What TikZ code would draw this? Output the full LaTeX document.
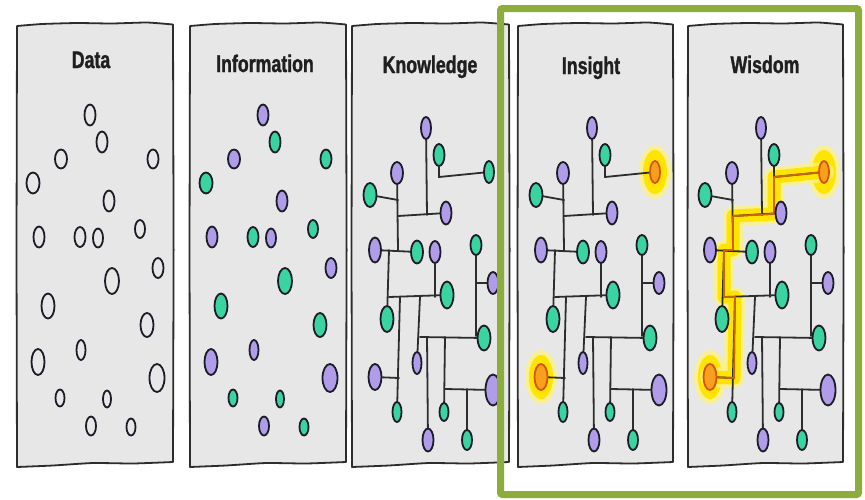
\documentclass[tikz,border=0pt]{standalone}
\usepackage{fontspec}
\newfontfamily\headfont{Liberation Sans Bold}[FakeStretch=0.74, FakeBold=1.2]
\usetikzlibrary{shapes.geometric}

\definecolor{panelgray}{RGB}{231,231,231}
\definecolor{inkgray}{RGB}{45,45,45}
\definecolor{dotink}{RGB}{28,28,40}
\definecolor{mint}{RGB}{58,212,160}
\definecolor{lilac}{RGB}{176,156,232}
\definecolor{hotfill}{RGB}{247,160,30}
\definecolor{hotedge}{RGB}{215,85,10}
\definecolor{glowyellow}{RGB}{255,228,0}
\definecolor{framegreen}{RGB}{140,172,60}
\definecolor{pathcore}{RGB}{200,100,10}

\pgfdeclarelayer{panels}
\pgfdeclarelayer{glow}
\pgfdeclarelayer{wires}
\pgfsetlayers{panels,glow,wires,main}

\tikzset{
  panel/.style={draw=inkgray, line width=1.8pt, fill=panelgray, line join=round},
  heading/.style={font=\headfont\fontsize{24}{27}\selectfont, text=black!88, anchor=base, inner sep=0pt},
  dot/.style 2 args={ellipse, draw=dotink, line width=1.8pt, inner sep=0pt, minimum width=#1pt, minimum height=#2pt},
  gdot/.style={fill=mint},
  pdot/.style={fill=lilac},
  odot/.style={fill=hotfill, draw=hotedge},
  wire/.style={draw=inkgray, line width=1.8pt, line cap=round},
  haze/.style={fill=glowyellow!50, opacity=0.75},
  halo/.style={fill=glowyellow},
  band/.style={draw=glowyellow, line width=13pt, line join=round, line cap=round},
  bandhaze/.style={draw=glowyellow!50, line width=20pt, line join=round, line cap=round, opacity=0.75},
  core/.style={draw=pathcore, line width=1.9pt, line join=round, line cap=round},
  frame/.style={draw=framegreen, line width=7pt, rounded corners=2pt},
}

% hand-drawn grey card between two x positions
\newcommand{\sketchpanel}[2]{%
  \begin{pgfonlayer}{panels}
    \draw[panel] plot[smooth, tension=0.3] coordinates {(#1,26) (#1+25,24) (#1+60,23) (#1+95,23.5) (#1+130,22.5) (#2,24.5)}
      -- (#2+0.6,250)
      -- plot[smooth, tension=0.3] coordinates {(#2,462) (#2-40,463.5) (#2-80,463) (#2-120,465.5) (#1,467)}
      -- (#1-0.5,250) -- cycle;
  \end{pgfonlayer}}

% branching network: #1 name prefix, #2 x shift, #3 style of node g2, #4 style of node p10
\newcommand{\dikwnet}[4]{%
\begin{scope}[xshift=#2pt, name prefix=#1-]
  \node[dot={10}{22}, pdot] (p1) at (426,128) {};
  \node[dot={11}{22}, gdot] (g1) at (439,155) {};
  \node[dot={12}{22}, pdot] (p2) at (397,173) {};
  \node[dot={10}{22}, #3] (g2) at (489,172) {};
  \node[dot={13}{24}, gdot] (g3) at (370,195) {};
  \node[dot={11}{23}, pdot] (p3) at (446,213) {};
  \node[dot={12}{25}, pdot] (p4) at (375,250) {};
  \node[dot={12}{23}, gdot] (g4) at (417,252) {};
  \node[dot={11}{22}, pdot] (p5) at (435,252) {};
  \node[dot={11}{20}, gdot] (g9) at (476,245) {};
  \node[dot={11}{22}, pdot] (p6) at (493,283) {};
  \node[dot={13}{27}, gdot] (g6) at (447,295) {};
  \node[dot={13}{26}, gdot] (g5) at (387,319) {};
  \node[dot={13}{25}, gdot] (g8) at (484,338) {};
  \node[dot={9}{22},  pdot] (p8) at (417,363) {};
  \node[dot={13}{26}, #4] (p10) at (375,377) {};
  \node[dot={15}{31}, pdot] (p9) at (493,390) {};
  \node[dot={9}{20},  gdot] (g7) at (397,412) {};
  \node[dot={9}{18},  gdot] (g10) at (444,412) {};
  \node[dot={11}{23}, pdot] (p7) at (428,440) {};
  \node[dot={10}{20}, gdot] (g11) at (467,440) {};
  % junctions
  \coordinate (a) at (439,177);
  \coordinate (s) at (439,214);
  \coordinate (b) at (427,215);
  \coordinate (c) at (398,216);
  \coordinate (d) at (398,200);
  \coordinate (e) at (398,250);
  \coordinate (f) at (389,250);
  \coordinate (g) at (389,297);
  \coordinate (h) at (400,297);
  \coordinate (i) at (420,297);
  \coordinate (j) at (435,297);
  \coordinate (k) at (399,378);
  \coordinate (l) at (476,283);
  \coordinate (m) at (476,336);
  \coordinate (n) at (420,337);
  \coordinate (o) at (427,337);
  \coordinate (p) at (445,337);
  \coordinate (q) at (445,389);
  \coordinate (r) at (467,389);
  \begin{pgfonlayer}{wires}
    \draw[wire] (p1) -- (b);
    \draw[wire] (g1) -- (a) -- (g2);
    \draw[wire] (p2) -- (e);
    \draw[wire] (g3) -- (d);
    \draw[wire] (c) -- (p3);
    \draw[wire] (p4) -- (g4);
    \draw[wire] (f) -- (g5);
    \draw[wire] (g) -- (g6);
    \draw[wire] (p5) -- (j);
    \draw[wire] (h) -- (g7);
    \draw[wire] (i) -- (p8);
    \draw[wire] (p10) -- (k);
    \draw[wire] (g9) -- (m);
    \draw[wire] (l) -- (p6);
    \draw[wire] (n) -- (g8);
    \draw[wire] (o) -- (p7);
    \draw[wire] (p) -- (g10);
    \draw[wire] (q) -- (p9);
    \draw[wire] (r) -- (g11);
  \end{pgfonlayer}
\end{scope}}

\begin{document}
\begin{tikzpicture}[x=1pt, y=-1pt]
  \useasboundingbox (0,0) rectangle (865,499);
  \begin{pgfonlayer}{panels}
    \fill[white] (0,0) rectangle (865,499);
  \end{pgfonlayer}

  % the five cards
  \sketchpanel{17}{173}
  \sketchpanel{190}{346}
  \sketchpanel{352}{509}
  \sketchpanel{518}{673}
  \sketchpanel{688}{843}

  % headings
  \node[heading] (t-data) at (91,68) {Data};
  \node[heading] (t-info) at (265,72) {Information};
  \node[heading] (t-know) at (430,73) {Knowledge};
  \node[heading] (t-insight) at (591,74) {Insight};
  \node[heading] (t-wisdom) at (765,73) {Wisdom};

  % scattered points: plain on the first card, coloured on the second
  \foreach \n/\x/\y/\w/\h/\c in {
      1/90/115/11/21/lilac, 2/102/142/11/21/mint, 3/61/159/12/19/lilac,
      4/153/159/11/19/mint, 5/33/183/13/21/mint, 6/109/201/11/21/lilac,
      7/39/237/11/21/lilac, 8/80/237/11/20/mint, 9/98/238/10/19/lilac,
      10/140/229/10/18/mint, 11/158/268/11/20/lilac, 12/112/281/14/26/mint,
      13/48/306/13/25/mint, 14/147/325/13/24/mint, 15/81/350/9/20/lilac,
      16/38/362/13/26/lilac, 17/157/378/15/28/lilac, 18/60/398/9/17/mint,
      19/107/399/8/17/mint, 20/91/426/10/19/lilac, 21/131/427/9/17/mint}{
    \node[dot={\w}{\h}, fill=panelgray] (data-\n) at (\x,\y) {};
    \node[dot={\w}{\h}, fill=\c] (info-\n) at (\x+173,\y) {};
  }

  % connected networks
  \dikwnet{k}{0}{gdot}{pdot}
  \dikwnet{i}{166}{odot}{odot}
  \dikwnet{w}{335}{odot}{odot}

  % highlights
  \begin{pgfonlayer}{glow}
    \foreach \nd in {i-g2, i-p10, w-g2, w-p10}{
      \fill[haze] (\nd) ellipse [x radius=16pt, y radius=27pt];
      \fill[halo] (\nd) ellipse [x radius=12pt, y radius=22pt];
    }
    \draw[bandhaze] (w-g2.center) -- (w-a) -- (w-s) -- (w-c) -- (w-e) -- (w-f) -- (w-g) -- (w-h) -- (w-k) -- (w-p10.center);
    \draw[band] (w-g2.center) -- (w-a) -- (w-s) -- (w-c) -- (w-e) -- (w-f) -- (w-g) -- (w-h) -- (w-k) -- (w-p10.center);
  \end{pgfonlayer}
  \begin{pgfonlayer}{wires}
    \draw[core] (w-g2) -- (w-a) -- (w-s) -- (w-c) -- (w-e) -- (w-f) -- (w-g) -- (w-h) -- (w-k) -- (w-p10);
  \end{pgfonlayer}

  % frame round the last two cards
  \draw[frame] (500.5,8.5) rectangle (858.5,494.5);
\end{tikzpicture}
\end{document}
